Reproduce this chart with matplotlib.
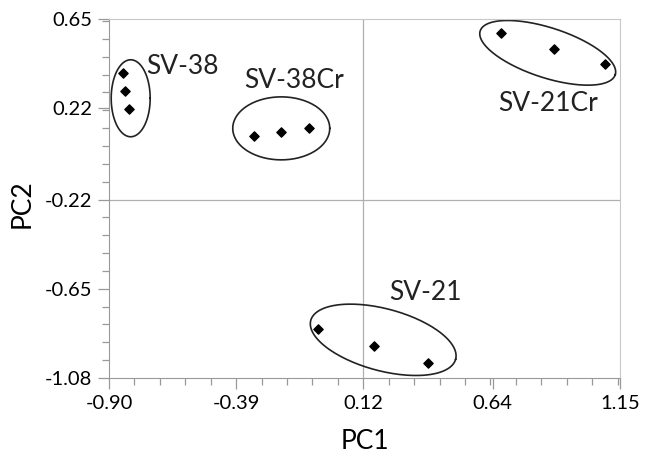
import numpy as np
import matplotlib
matplotlib.use("Agg")
import matplotlib.pyplot as plt
from matplotlib.ticker import FixedLocator, AutoMinorLocator

plt.rcParams["font.family"] = ["Lato", "DejaVu Sans"]

# PCA scores
groups = ["SV-38", "SV-38Cr", "SV-21Cr", "SV-21"]
pc1 = {
    "SV-38": [-0.844, -0.835, -0.820],
    "SV-38Cr": [-0.317, -0.211, -0.097],
    "SV-21Cr": [0.674, 0.886, 1.091],
    "SV-21": [-0.063, 0.162, 0.381],
}
pc2 = {
    "SV-38": [0.391, 0.304, 0.218],
    "SV-38Cr": [0.088, 0.105, 0.125],
    "SV-21Cr": [0.581, 0.507, 0.432],
    "SV-21": [-0.843, -0.927, -1.008],
}
# group ellipses: centre (data), semi-axes (px), tilt (deg, clockwise)
ell_center = {
    "SV-38": (-0.813, 0.268),
    "SV-38Cr": (-0.209, 0.123),
    "SV-21Cr": (0.860, 0.487),
    "SV-21": (0.200, -0.896),
}
ell_axes = {
    "SV-38": (19.5, 38.5),
    "SV-38Cr": (48.5, 31.5),
    "SV-21Cr": (71.0, 25.0),
    "SV-21": (75.0, 31.0),
}
ell_tilt = {"SV-38": 0, "SV-38Cr": 0, "SV-21Cr": 18, "SV-21": 15}
label_pos = {
    "SV-38": (-0.749, 0.423),
    "SV-38Cr": (-0.357, 0.356),
    "SV-21Cr": (0.660, 0.245),
    "SV-21": (0.223, -0.668),
}

xticks = [-0.90, -0.39, 0.12, 0.64, 1.15]
yticks = [-1.08, -0.65, -0.22, 0.22, 0.65]

W, H, DPI = 646, 459, 100
fig = plt.figure(figsize=(W / DPI, H / DPI), dpi=DPI)
left, right, top, bottom = 109, 620, 19, 378
ax = fig.add_axes([left / W, 1 - bottom / H, (right - left) / W, (bottom - top) / H])

xlim = (xticks[0], xticks[-1])
ylim = (yticks[0], yticks[-1])
sx = (right - left) / (xlim[1] - xlim[0])
sy = (bottom - top) / (ylim[1] - ylim[0])

ax.axvline(0.12, color="#b0b0b0", lw=0.9, zorder=0)
ax.axhline(-0.22, color="#b0b0b0", lw=0.9, zorder=0)

t = np.linspace(0, 2 * np.pi, 200)
for g in groups:
    ax.scatter(pc1[g], pc2[g], marker="D", s=22, color="black", zorder=3)
    cx, cy = ell_center[g]
    a, b = ell_axes[g]
    th = np.deg2rad(ell_tilt[g])
    px = a * np.cos(t) * np.cos(th) - b * np.sin(t) * np.sin(th)
    py = a * np.cos(t) * np.sin(th) + b * np.sin(t) * np.cos(th)
    ax.plot(cx + px / sx, cy - py / sy, color="#222222", lw=1.2)
    lx, ly = label_pos[g]
    ax.text(lx, ly, g, fontsize=19, ha="left", va="center", color="#222222")

ax.set_xlim(*xlim)
ax.set_ylim(*ylim)
ax.xaxis.set_major_locator(FixedLocator(xticks))
ax.yaxis.set_major_locator(FixedLocator(yticks))
ax.xaxis.set_minor_locator(AutoMinorLocator(5))
ax.yaxis.set_minor_locator(AutoMinorLocator(5))
ax.set_xticklabels([f"{v:.2f}" for v in xticks])
ax.set_yticklabels([f"{v:.2f}" for v in yticks])

ax.tick_params(which="major", length=8, width=0.9, color="#999999", labelsize=14.5, pad=4)
ax.tick_params(which="minor", length=5, width=0.9, color="#999999")
for s in ["left", "bottom"]:
    ax.spines[s].set_color("#999999")
for s in ["top", "right"]:
    ax.spines[s].set_color("#c8c8c8")

ax.set_xlabel("PC1", fontsize=19, va="center")
ax.set_ylabel("PC2", fontsize=19, va="center")
ax.xaxis.set_label_coords(0.501, -0.178)
ax.yaxis.set_label_coords(-0.170, 0.485)

fig.savefig("out.png", dpi=DPI)
